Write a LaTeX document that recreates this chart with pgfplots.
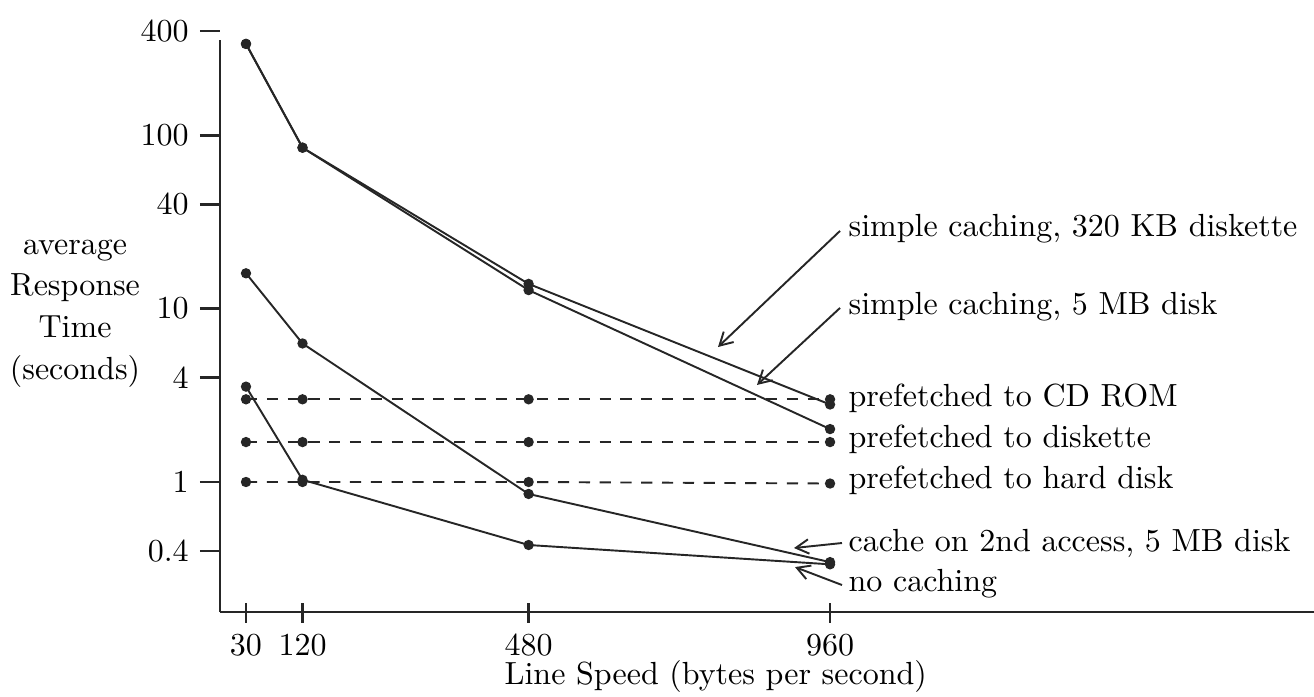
\documentclass[border=0pt]{standalone}
\usepackage{pgfplots}
\pgfplotsset{compat=1.18}
\usetikzlibrary{arrows.meta}
\begin{document}
\begin{tikzpicture}
\begin{axis}[
  at={(0,0)}, anchor=south west,
  scale only axis, width=341.875pt, height=181.5625pt,
  ymode=log, xmin=-11.4, xmax=1730.6, ymin=0.1778, ymax=400,
  axis lines=left,
  axis line style={-, line width=0.8pt, black!85},
  y axis line style={shorten >=2.8pt},
  xtick={30,120,480,960},
  ytick={0.4,1,4,10,40,100,400},
  yticklabels={0.4,1,4,10,40,100,400},
  yminorticks=false,
  tick align=outside,
  major tick length=6.25pt,
  tick style={line width=0.8pt, black!85},
  xtick style={yshift=2.9pt},
  xticklabel style={yshift=2.5pt},
  clip=false,
  xlabel={Line Speed (bytes per second)},
  xlabel style={at={(axis description cs:0.4531,0)}, anchor=base, yshift=-22.8pt},
  ylabel={average\\Response\\Time\\(seconds)},
  ylabel style={rotate=-90, align=center, font=\fontsize{10}{13}\selectfont, at={(axis description cs:-0.1325,0.5138)}, anchor=center},
  ser/.style={line width=0.6pt, black!85, mark=*, mark size=1.3pt, mark options={solid}},
  pre/.style={ser, dash pattern=on 3.5pt off 3pt},
]
% simple caching, 320 KB diskette
\addplot[ser] coordinates {(30,337) (120,84.9) (480,13.9) (960,2.8)};
% simple caching, 5 MB disk
\addplot[ser] coordinates {(30,337) (120,84.9) (480,12.8) (960,2.02)};
% prefetched to CD ROM
\addplot[pre] coordinates {(30,3.0) (120,3.0) (480,3.0) (960,3.0)};
% prefetched to diskette
\addplot[pre] coordinates {(30,1.7) (120,1.7) (480,1.7) (960,1.7)};
% prefetched to hard disk
\addplot[pre] coordinates {(30,1.0) (120,1.0) (480,1.0) (960,0.98)};
% cache on 2nd access, 5 MB disk
\addplot[ser] coordinates {(30,16.0) (120,6.3) (480,0.853) (960,0.345)};
% no caching
\addplot[ser] coordinates {(30,3.55) (120,1.03) (480,0.433) (960,0.335)};

\node[anchor=mid west, inner sep=0] at (axis cs:988.6,28.5) {simple caching, 320 KB diskette};
\node[anchor=mid west, inner sep=0] at (axis cs:988.6,10.09) {simple caching, 5 MB disk};
\node[anchor=mid west, inner sep=0] at (axis cs:988.6,2.97) {prefetched to CD ROM};
\node[anchor=mid west, inner sep=0] at (axis cs:988.6,1.724) {prefetched to diskette};
\node[anchor=mid west, inner sep=0] at (axis cs:988.6,1.0) {prefetched to hard disk};
\node[anchor=mid west, inner sep=0] at (axis cs:988.6,0.433) {cache on 2nd access, 5 MB disk};
\node[anchor=mid west, inner sep=0] at (axis cs:988.6,0.2545) {no caching};

\begin{scope}[line width=0.6pt, black!85, -{Straight Barb[length=4pt,width=4.5pt]}]
\draw (axis cs:975.9,28.1) -- (axis cs:781.6,6.01);
\draw (axis cs:975.9,10.1) -- (axis cs:843.7,3.63);
\draw (axis cs:979,0.4446) -- (axis cs:902.6,0.416);
\draw (axis cs:979,0.2545) -- (axis cs:904.2,0.323);
\end{scope}
\end{axis}
\pgfresetboundingbox
\path[use as bounding box] (-68.75pt,-26.25pt) rectangle (341.875pt,191.25pt);
\end{tikzpicture}
\end{document}
